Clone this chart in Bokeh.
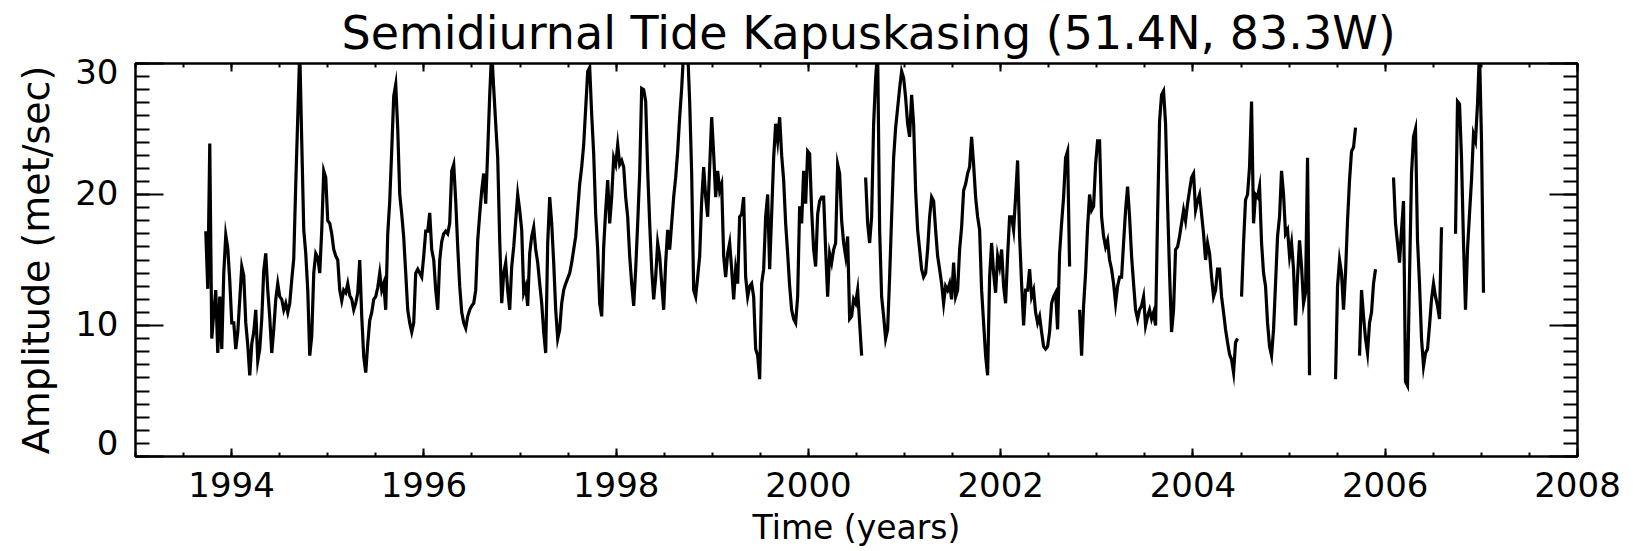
import numpy as np
from bokeh.plotting import figure
from bokeh.models import Range1d, LinearAxis, SingleIntervalTicker, FixedTicker, CustomJSTickFormatter
from bokeh.embed import file_html
from bokeh.resources import INLINE

nan = float("nan")

# ---------------- texts / ticks ----------------
title_text = "Semidiurnal Tide Kapuskasing (51.4N, 83.3W)"
x_label = "Time (years)"
y_label = "Amplitude (met/sec)"
x_tick_values = [1994, 1996, 1998, 2000, 2002, 2004, 2006, 2008]
x_tick_labels = ["1994", "1996", "1998", "2000", "2002", "2004", "2006", "2008"]
y_tick_values = [0, 10, 20, 30]
y_tick_labels = ["0", "10", "20", "30"]

# ---------------- data (amplitude, m/s), sampled every ~7.6 days ----------------
t_start = 1993.731
t_step = 0.0208

amp_1993_1996 = [
    17.2, 12.8, 23.9, 9.0, 11.0, 12.7, 7.9, 12.2, 8.2, 14.0,
    16.9, 15.9, 13.4, 10.2, 10.2, 8.2, 9.5, 12.0, 14.5, 13.8,
    10.2, 8.5, 6.2, 8.6, 9.5, 11.2, 7.3, 8.2, 10.5, 14.2,
    15.5, 12.7, 10.6, 7.9, 9.7, 12.0, 13.2, 12.2, 12.0, 11.2,
    11.7, 11.0, 11.7, 13.5, 15.1, 20.8, 25.9, 31.0, 24.0, 17.3,
    15.5, 12.7, 7.7, 9.2, 14.0, 15.5, 15.2, 14.0, 17.3, 21.8,
    21.3, 18.0, 17.8, 17.0, 15.8, 15.3, 15.0, 12.7, 11.9, 12.7,
    12.5, 13.2, 12.3, 12.0, 11.2, 11.7, 12.5, 15.0, 10.7, 7.6,
    6.4, 8.6, 10.4, 11.0, 12.0, 12.2, 12.9, 14.0, 12.7, 13.2,
    11.2, 17.0, 19.5, 23.4, 27.5, 28.4, 25.0, 20.0, 18.5, 16.7,
    14.0, 11.2, 10.2, 9.5, 10.2, 14.0, 14.3, 14.0, 13.7, 15.3,
    17.2, 17.2, 18.6, 15.8, 15.0, 12.7, 11.2, 15.0, 16.4, 17.0,
    17.2, 17.0, 17.8, 21.8, 22.3, 19.5, 16.0, 13.0,
]
amp_1996_1999 = [
    11.0, 10.2, 9.8, 10.7, 11.2, 11.5, 11.7, 12.7, 16.5, 18.5,
    20.3, 21.6, 19.3, 23.3, 27.6, 31.0, 28.1, 25.4, 22.8, 16.5,
    11.7, 14.0, 14.8, 12.7, 11.2, 14.5, 16.0, 18.0, 20.0, 18.8,
    17.3, 12.5, 13.0, 11.5, 15.5, 16.8, 17.5, 15.8, 14.8, 13.2,
    11.7, 9.5, 7.9, 16.3, 19.8, 17.8, 14.8, 11.2, 9.0, 9.7,
    11.7, 12.7, 13.2, 13.6, 14.0, 14.8, 15.8, 16.8, 18.8, 20.8,
    22.1, 23.8, 26.6, 29.4, 29.7, 26.1, 23.1, 18.5, 15.8, 11.7,
    10.7, 16.0, 18.8, 21.1, 17.8, 19.8, 22.8, 22.3, 23.8, 22.3,
    22.6, 22.1, 19.8, 18.3, 15.3, 13.2, 11.5, 14.3, 17.8, 21.6,
    28.1, 28.0, 27.1, 21.8, 17.8, 14.3, 12.0, 13.7, 16.3, 15.3,
    13.2, 11.2, 14.8, 17.3, 15.8, 17.8, 19.8, 21.3, 23.3, 25.9,
    28.1, 31.0, 33.0, 31.0, 27.1, 21.6, 12.7, 12.2, 13.7, 15.3,
    19.5, 22.1, 19.8, 18.3, 22.1, 25.9, 23.1, 19.8, 21.8, 20.3,
]
amp_1999_2001 = [
    20.8, 15.3, 13.7, 15.5, 16.3, 14.3, 12.0, 14.3, 13.2, 18.3,
    18.5, 19.8, 13.7, 12.2, 13.0, 13.2, 12.2, 8.2, 7.7, 5.9,
    13.2, 14.3, 18.3, 20.0, 14.3, 18.5, 22.8, 25.4, 24.1, 25.9,
    23.0, 21.1, 17.8, 15.5, 13.0, 11.2, 10.5, 10.2, 12.2, 19.1,
    17.8, 21.8, 19.3, 23.3, 23.1, 18.8, 15.8, 14.5, 18.5, 19.5,
    19.8, 19.8, 15.8, 12.2, 15.5, 14.8, 15.8, 16.3, 22.3, 21.6,
    18.0, 16.3, 15.3, 16.8, 10.5, 10.7, 12.0, 11.7, 12.7, 10.2,
    7.7, nan, 21.3, 17.8, 16.3, 18.3, 25.4, 28.9, 31.0, 17.3,
    12.2, 10.7, 9.0, 9.7, 13.7, 18.3, 22.8, 25.1, 26.6, 28.1,
    29.4, 28.9, 27.4, 25.4, 24.4, 27.6, 25.4, 20.3, 17.3, 15.8,
    14.3, 13.7, 14.0, 15.8, 18.3, 19.8, 19.5, 17.3, 15.3, 14.3,
    13.2, 11.7, 13.0, 12.7, 13.2, 12.0, 14.8, 12.2, 12.7, 15.8,
    17.5, 20.3, 20.8, 21.6, 22.1, 24.4, 22.3, 19.8, 18.3, 17.3,
]
amp_2001_2004 = [
    12.7, 10.2, 7.7, 6.2, 13.7, 16.3, 14.0, 12.5, 15.3, 14.5,
    15.8, 13.0, 11.7, 15.3, 18.3, 18.3, 17.3, 19.8, 22.6, 16.8,
    13.2, 10.0, 12.7, 12.7, 14.3, 12.2, 12.7, 11.0, 10.2, 10.7,
    9.5, 8.4, 8.2, 8.4, 9.5, 11.7, 12.2, 12.5, 9.7, 15.5,
    17.8, 19.8, 22.8, 23.3, 14.5, nan, nan, nan, nan, 11.2,
    7.7, 11.5, 14.0, 17.5, 20.0, 18.8, 19.1, 22.3, 24.1, 24.1,
    18.3, 16.8, 16.0, 16.5, 15.0, 14.3, 13.2, 11.7, 13.0, 13.7,
    13.7, 16.3, 18.8, 20.6, 18.3, 15.3, 13.2, 11.2, 10.5, 11.2,
    11.5, 12.2, 10.0, 10.7, 11.2, 10.5, 11.0, 10.0, 18.3, 25.6,
    27.6, 27.9, 25.4, 19.3, 14.0, 9.5, 11.2, 15.8, 16.0, 16.8,
    17.8, 18.8, 18.0, 19.3, 20.3, 21.3, 21.6, 18.8, 19.5, 20.0,
    18.5, 17.0, 15.0, 16.3, 15.5, 13.7, 12.2, 12.7, 14.3, 14.3,
    12.2, 11.0, 9.7, 8.7, 7.8, 7.4, 6.4, 8.7, 9.0, nan,
]
amp_2004_2007 = [
    12.2, 16.3, 19.6, 20.0, 22.1, 27.1, 17.8, 20.0, 19.8, 20.6,
    16.3, 14.0, 13.0, 10.2, 8.4, 7.7, 9.7, 13.2, 16.8, 18.3,
    21.8, 20.0, 17.0, 17.3, 15.3, 16.3, 14.3, 10.0, 13.7, 16.5,
    14.5, 11.7, 12.5, 22.8, 6.2, nan, nan, nan, nan, nan,
    nan, nan, nan, nan, nan, nan, nan, 5.9, 13.0, 15.0,
    14.0, 11.2, 14.0, 18.0, 21.1, 23.3, 23.6, 25.1, nan, 7.7,
    12.7, 10.7, 9.0, 7.9, 10.2, 11.0, 13.2, 14.3, nan, nan,
    nan, nan, nan, nan, nan, nan, 21.3, 17.8, 16.3, 14.8,
    17.3, 19.5, 5.7, 5.4, 13.7, 21.6, 24.4, 25.0, 16.5, 13.2,
    9.0, 6.9, 7.9, 8.2, 10.0, 12.0, 13.2, 12.2, 11.5, 10.5,
    17.5, nan, nan, nan, nan, nan, nan, 17.0, 27.1, 26.9,
    22.8, 16.3, 11.2, 15.8, 18.5, 21.1, 24.6, 24.1, 26.9, 31.0,
    24.1, 12.5,
]

amp = np.array(amp_1993_1996 + amp_1996_1999 + amp_1999_2001 + amp_2001_2004 + amp_2004_2007, dtype=float)
t = t_start + t_step * np.arange(len(amp))

# ---------------- figure ----------------
FONT = "DejaVu Sans"
TICK_FS = "34px"
XLABEL_FS = "33px"
YLABEL_FS = "38px"

p = figure(width=1633, height=551,
           x_range=Range1d(1993, 2008), y_range=Range1d(0, 30),
           x_axis_type=None, y_axis_type=None,
           output_backend="svg", toolbar_location=None,
           min_border_left=135, min_border_right=56, min_border_top=61, min_border_bottom=95,
           background_fill_color="white", border_fill_color="white")
p.outline_line_color = "black"
p.outline_line_width = 2.5
p.outline_line_alpha = 1.0

p.title.text = title_text
p.title.align = "left"
p.title.offset = 206
p.title.text_font = FONT
p.title.text_font_size = "46px"
p.title.text_font_style = "normal"
p.title.text_color = "black"
p.title.standoff = 7


def tick_axis(ticker, tick_in, minor_in):
    return LinearAxis(
        ticker=ticker,
        major_tick_in=tick_in, major_tick_out=0,
        minor_tick_in=minor_in, minor_tick_out=0,
        major_tick_line_color="black", major_tick_line_width=2,
        minor_tick_line_color="black", minor_tick_line_width=2,
        axis_line_color=None,
        major_label_standoff=0,
        major_label_text_font_size="0px",
        formatter=CustomJSTickFormatter(code="return ''"),
    )


# ticks (inward) on all four sides
p.add_layout(tick_axis(SingleIntervalTicker(interval=10, num_minor_ticks=10), 28, 14), "left")

# y tick labels (end labels kept inside the axis span, IDL style)
low_shift = 1.05
high_shift = 0.6
y_label_pos = []
for v in y_tick_values:
    if v == min(y_tick_values):
        y_label_pos.append(round(v + low_shift, 3))
    elif v == max(y_tick_values):
        y_label_pos.append(round(v - high_shift, 3))
    else:
        y_label_pos.append(float(v) + 0.15)

ylab = LinearAxis(
    ticker=FixedTicker(ticks=y_label_pos, minor_ticks=[]),
    major_label_overrides={pos: lab for pos, lab in zip(y_label_pos, y_tick_labels)},
    major_tick_in=0, major_tick_out=0, minor_tick_in=0, minor_tick_out=0,
    major_tick_line_color=None, minor_tick_line_color=None, axis_line_color=None,
    major_label_standoff=17,
    major_label_text_font=FONT, major_label_text_font_size=TICK_FS, major_label_text_color="black",
    axis_label=y_label, axis_label_text_font=FONT, axis_label_text_font_size=YLABEL_FS,
    axis_label_text_font_style="normal", axis_label_text_color="black", axis_label_standoff=14,
)
p.add_layout(ylab, "left")

p.add_layout(tick_axis(SingleIntervalTicker(interval=10, num_minor_ticks=10), 28, 14), "right")
p.add_layout(tick_axis(SingleIntervalTicker(interval=2, num_minor_ticks=4), 8, 4), "above")

xax = LinearAxis(
    ticker=SingleIntervalTicker(interval=2, num_minor_ticks=4),
    major_label_overrides={v: lab for v, lab in zip(x_tick_values, x_tick_labels)},
    major_tick_in=8, major_tick_out=0, minor_tick_in=4, minor_tick_out=0,
    major_tick_line_color="black", major_tick_line_width=2,
    minor_tick_line_color="black", minor_tick_line_width=2,
    axis_line_color=None,
    major_label_standoff=15,
    major_label_text_font=FONT, major_label_text_font_size=TICK_FS, major_label_text_color="black",
    axis_label=x_label, axis_label_text_font=FONT, axis_label_text_font_size=XLABEL_FS,
    axis_label_text_font_style="normal", axis_label_text_color="black", axis_label_standoff=8,
)
p.add_layout(xax, "below")

p.line(t, amp, line_color="black", line_width=3.2, line_join="miter")

open("out.html", "w").write(file_html(p, INLINE))
